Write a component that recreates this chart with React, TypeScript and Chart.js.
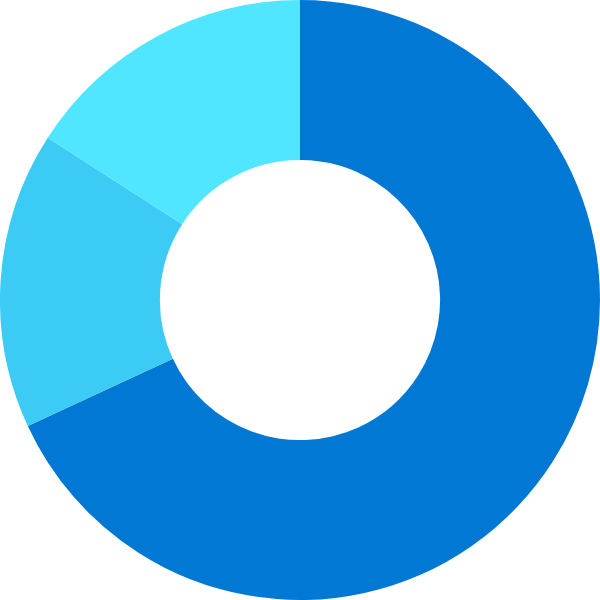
import React, { useRef, useEffect } from 'react';
import { Chart, registerables } from 'chart.js';

Chart.register(...registerables);

const labels = ['A', 'B', 'C'];
const values = [68.1, 16.0, 15.9];
const colors = ['#0078d4', '#3ccbf4', '#50e6ff'];

const App: React.FC = () => {
  const canvasRef = useRef<HTMLCanvasElement | null>(null);

  useEffect(() => {
    if (!canvasRef.current) return;
    document.body.style.margin = '0';

    const chart = new Chart(canvasRef.current, {
      type: 'doughnut',
      data: {
        labels,
        datasets: [
          {
            data: values,
            backgroundColor: colors,
            borderWidth: 0,
          },
        ],
      },
      options: {
        animation: false,
        responsive: false,
        cutout: '46.7%',
        layout: { padding: 0 },
        plugins: {
          legend: { display: false },
          tooltip: { enabled: false },
        },
      },
    });

    return () => {
      chart.destroy();
    };
  }, []);

  return (
    <div style={{ width: 600, height: 600 }}>
      <canvas ref={canvasRef} width={600} height={600} style={{ width: 600, height: 600 }}></canvas>
    </div>
  );
};

export default App;
